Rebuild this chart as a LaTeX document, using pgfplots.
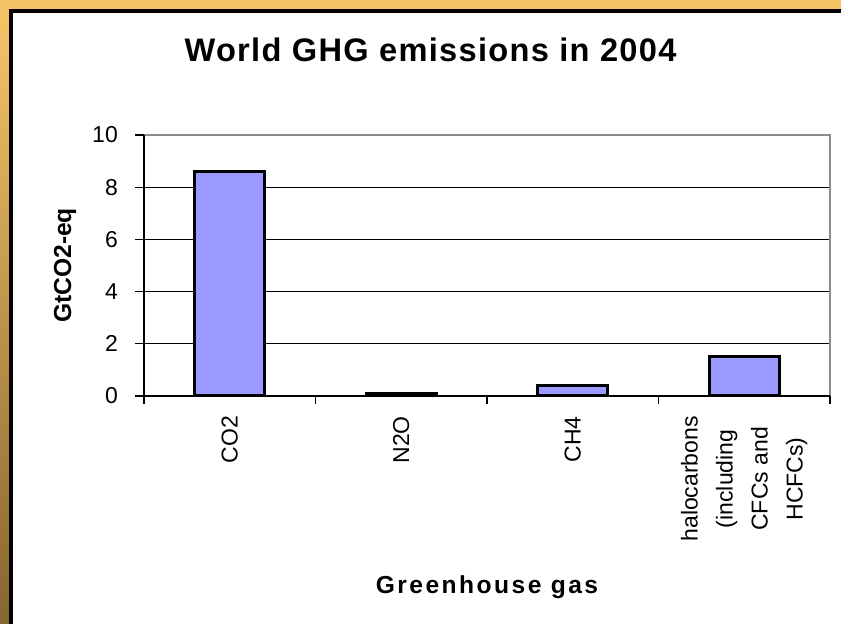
\documentclass[border=0pt]{standalone}
\usepackage{pgfplots}
\pgfplotsset{compat=1.18}
\usepackage{fontspec}
\setmainfont{Liberation Sans}
\newfontfamily\titlefont[LetterSpace=4]{Liberation Sans}
\newfontfamily\axtitlefont[LetterSpace=10]{Liberation Sans}

\definecolor{barblue}{HTML}{9999FF}
\definecolor{frametop}{HTML}{F6C468}
\definecolor{framebot}{HTML}{86652F}
\definecolor{bordergray}{HTML}{8C8C8C}

\begin{document}
\begin{tikzpicture}[x=1pt,y=1pt]
\path[use as bounding box] (0,0) rectangle (841,624);
% slide frame
\fill[white] (0,0) rectangle (841,624);
\fill[frametop] (0,615) rectangle (841,624);
\shade[top color=frametop, bottom color=framebot] (0,0) rectangle (9,615);
\draw[black, line width=4pt] (11,0) -- (11,613) -- (841,613);

\begin{axis}[
  at={(144pt,228pt)}, anchor=south west,
  scale only axis, width=686pt, height=261pt,
  xmin=-0.5, xmax=3.5, ymin=0, ymax=10,
  clip=false,
  /pgf/number format/assume math mode=true,
  ytick={0,2,...,10},
  xtick={0,1,2,3},
  xticklabels={CO2, N2O, CH4, {halocarbons\\(including\\CFCs and\\HCFCs)}},
  minor xtick={-0.5,0.5,1.5,2.5,3.5},
  tick pos=left,
  tick align=outside,
  major tick length=9pt, minor tick length=8pt,
  major x tick style={draw=none},
  minor x tick style={black, line width=1.2pt},
  y tick style={black, line width=1.2pt},
  ymajorgrids, grid style={black, line width=1.1pt},
  axis line style={draw=none},
  ticklabel style={font=\fontsize{23}{35}\selectfont, inner sep=0pt},
  yticklabel style={anchor=east, xshift=-17pt},
  xticklabel style={yshift=-11pt, rotate=90, anchor=east, align=center},
  title={\titlefont\bfseries World GHG emissions in 2004},
  title style={at={(rel axis cs:0.5,1)}, anchor=base, xshift=-56.5pt, yshift=67pt,
               font=\fontsize{32.6}{39}\selectfont, inner sep=0pt},
  xlabel={\axtitlefont\bfseries Greenhouse gas},
  every axis x label/.style={at={(rel axis cs:0.5,0)}, anchor=base, yshift=-197pt,
               font=\fontsize{24.6}{30}\selectfont, inner sep=0pt},
  ylabel={\bfseries GtCO2-eq},
  every axis y label/.style={at={(rel axis cs:0,0.5)}, xshift=-73pt, rotate=90, anchor=base,
               font=\fontsize{24.6}{30}\selectfont, inner sep=0pt},
]
\addplot[ybar, bar width=70pt, fill=barblue, draw=black, line width=3pt]
  coordinates {(0,8.6) (1,0.1) (2,0.4) (3,1.5)};
% plot area border: grey top and right, black value and category axes
\draw[bordergray, line width=2pt] (rel axis cs:0,1) -- (rel axis cs:1,1) -- (rel axis cs:1,0);
\draw[black, line width=1.5pt] (rel axis cs:0,1) -- (rel axis cs:0,0) -- (rel axis cs:1,0);
\end{axis}
\end{tikzpicture}
\end{document}
